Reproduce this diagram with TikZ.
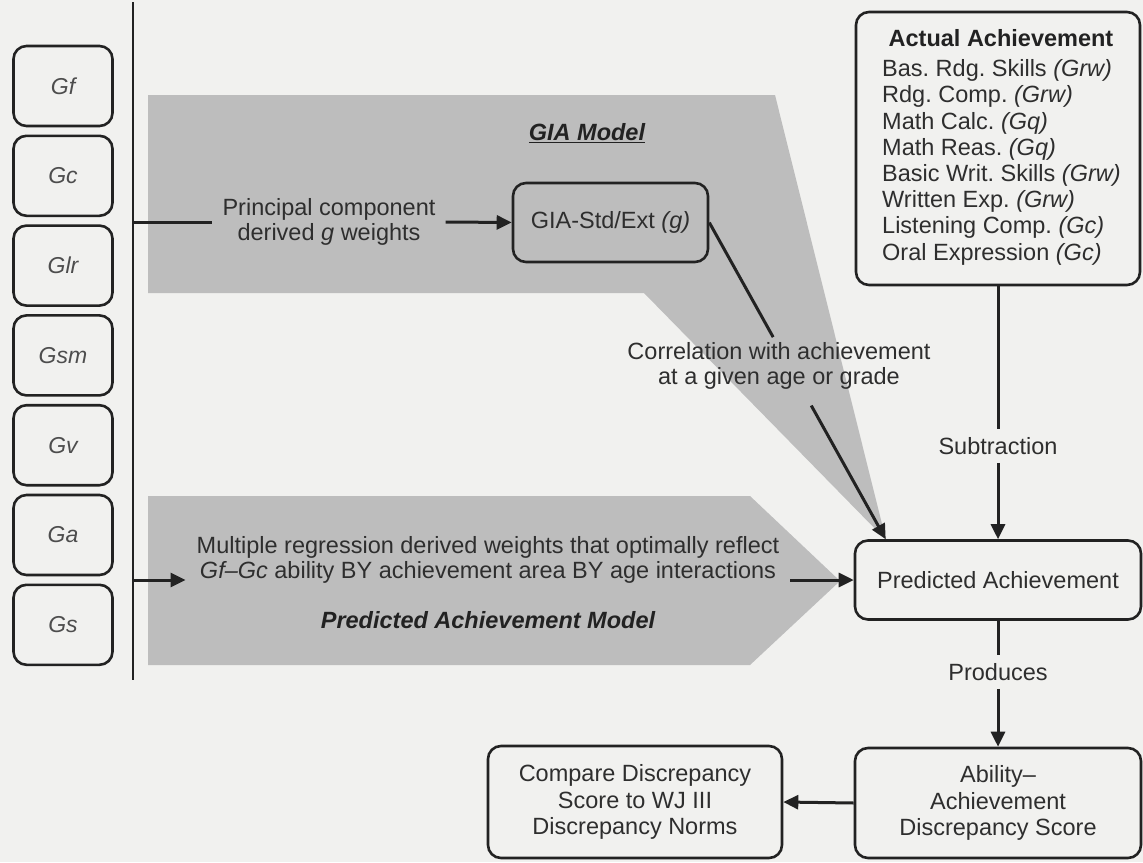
\documentclass[tikz,border=0pt]{standalone}
\usepackage{fontspec}
\setmainfont{Liberation Sans}
\usetikzlibrary{arrows.meta}

\definecolor{page}{HTML}{F1F1EF}
\definecolor{band}{HTML}{BDBDBD}
\definecolor{ink}{HTML}{222222}
\definecolor{txt}{HTML}{2E2E2E}

\begin{document}
\frenchspacing
\begin{tikzpicture}[x=1pt,y=-1pt,
  every node/.style={font=\fontsize{23.5}{25}\selectfont, text=txt},
  abox/.style={draw=ink, line width=2.6pt, rounded corners=13pt, fill=page, inner sep=0pt},
  gbox/.style={abox, minimum width=99pt, minimum height=80pt,
               font=\fontsize{23}{25}\selectfont\itshape, text=txt!85},
  lbl/.style={align=center, inner xsep=10pt, inner ysep=8pt},
  title/.style={font=\fontsize{23.5}{25}\selectfont\bfseries\itshape, text=ink},
  conn/.style={draw=ink, line width=3pt},
  arr/.style={conn, -{Triangle[length=15pt,width=14pt]}},
]
% page
\fill[page] (0,0) rectangle (1143,862);
\useasboundingbox (0,0) rectangle (1143,862);

% shaded model bands
\fill[band] (148,95) -- (775,95) -- (886,540) -- (644,293) -- (148,293) -- cycle;
\fill[band] (148,496) -- (750,496) -- (840,581) -- (750,665) -- (148,665) -- cycle;

% broad abilities
\foreach \lab/\nm [count=\i from 0] in {Gf/gf, Gc/gc, Glr/glr, Gsm/gsm, Gv/gv, Ga/ga, Gs/gs}
  \node[gbox] (\nm) at (63,{86+89.8*\i}) {\lab};

% collecting bar
\coordinate (bartop) at (133,2);
\coordinate (barbot) at (133,680);
\coordinate (tapG) at (133,222);
\coordinate (tapP) at (133,580);
\draw[conn, line width=2.4pt] (bartop) -- (barbot);

% GIA model
\node[title] (giamodel) at (587,133) {\underline{GIA Model}};
\node[lbl] (pcw) at (329,222) {Principal component\\derived \textit{g} weights};
\node[abox, fill=none, minimum width=195pt, minimum height=79pt] (gia) at (610.5,222.5) {GIA-Std/Ext \textit{(g)}};

% actual achievement
\node[abox, minimum width=284pt, minimum height=273pt] (actual) at (998,148.5) {};
\node[font=\fontsize{23.5}{25}\selectfont\bfseries, text=ink] (acttitle) at (1001,38) {Actual Achievement};
\node[align=left, inner sep=0pt, anchor=north west,
      font=\fontsize{23.5}{26.2}\selectfont] (actlist) at (882,59.5)
  {Bas. Rdg. Skills \textit{(Grw)}\\
   Rdg. Comp. \textit{(Grw)}\\
   Math Calc. \textit{(Gq)}\\
   Math Reas. \textit{(Gq)}\\
   Basic Writ. Skills \textit{(Grw)}\\
   Written Exp. \textit{(Grw)}\\
   Listening Comp. \textit{(Gc)}\\
   Oral Expression \textit{(Gc)}};

% predicted achievement model
\node[lbl, inner xsep=11pt] (mrw) at (488,560)
  {Multiple regression derived weights that optimally reflect\\
   \textit{Gf--Gc} ability BY achievement area BY age interactions};
\node[title] (pam) at (488,620) {Predicted Achievement Model};

% right column
\node[abox, minimum width=286pt, minimum height=79pt] (pred) at (998,580) {Predicted Achievement};
\node[lbl] (sub) at (998,446) {Subtraction};
\node[lbl] (corr) at (779,366) {Correlation with achievement\\at a given age or grade};
\node[lbl] (prod) at (998,672) {Produces};
\node[abox, minimum width=286pt, minimum height=110pt, align=center,
      font=\fontsize{23.5}{26.5}\selectfont] (abil) at (998,803)
  {Ability--\\Achievement\\Discrepancy Score};
\node[abox, minimum width=294pt, minimum height=112pt, align=center,
      font=\fontsize{23.5}{26.5}\selectfont] (cmp) at (635,802)
  {Compare Discrepancy\\Score to WJ III\\Discrepancy Norms};

% connectors
\draw[conn] (tapG) -- (pcw.west);
\draw[arr] (pcw.east) -- (gia.west);

\coordinate (predin) at ([xshift=32pt]pred.north west);
\path (gia.east) -- (predin) coordinate[pos=0.362] (cut1) coordinate[pos=0.578] (cut2);
\draw[conn] (gia.east) -- (cut1);
\draw[arr] (cut2) -- (predin);

\draw[arr] (tapP) -- (tapP -| mrw.west);
\draw[arr] (mrw.east |- pred.west) -- (pred.west);

\draw[conn] (actual.south) -- (sub.north);
\draw[arr] (sub.south) -- (pred.north);
\draw[conn] (pred.south) -- (prod.north);
\draw[arr] (prod.south) -- (abil.north);
\draw[arr] (abil.west) -- (cmp.east);
\end{tikzpicture}
\end{document}
